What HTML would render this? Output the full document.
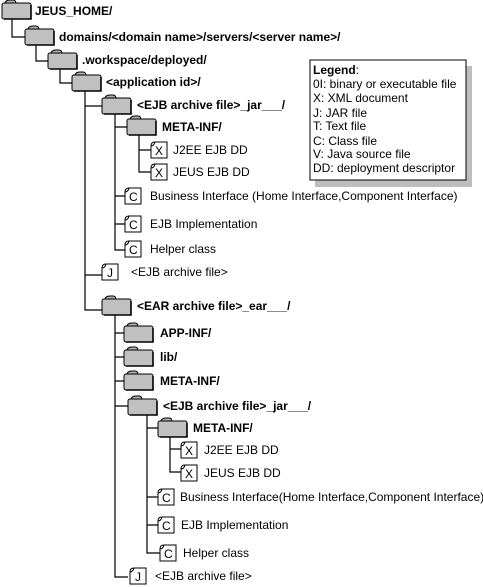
<!DOCTYPE html>
<html><head><meta charset="utf-8"><style>
html,body{margin:0;padding:0;background:#fff;}
svg{display:block;}
text{font-family:"Liberation Sans",Arial,sans-serif;font-size:12px;fill:#000;}
.b{font-weight:bold;}
</style></head><body>
<svg width="483" height="587" viewBox="0 0 483 587" xmlns="http://www.w3.org/2000/svg">
<defs>
<g id="fd">
<path d="M3 1 Q3 -3 8 -3 L11 -3 Q14 -3 14 1 Z" fill="#b0b0b0" stroke="#000" stroke-width="1"/>
<rect x="0" y="0" width="29" height="16" rx="2" fill="#c0c0c0" stroke="#000" stroke-width="1"/>
<path d="M29 2 L29 16 L2 16" fill="none" stroke="#000" stroke-width="1.6"/>
</g>
<path id="fl" d="M4 0 L16 0 L16 16 L0 16 L0 4 Q0 0 4 0 Z M0 4 Q3 4 4 0" fill="#fff" stroke="#000" stroke-width="1"/>
</defs>
<g stroke="#000" stroke-width="1.2" fill="none">
<path d="M12 18 V37 H25"/>
<path d="M36 45 V61 H48"/>
<path d="M60 69 V83 H72"/>
<path d="M85 91 V310 H102 M85 106 H102 M85 275 H102"/>
<path d="M115 114 V250 H125 M115 196 H125 M115 224 H125 M115 127 H127"/>
<path d="M139 134 V172 H151 M139 150 H151"/>
<path d="M115 315 V577 H128 M115 333 H124 M115 357 H124 M115 381 H124 M115 406 H128"/>
<path d="M147 415 V553 H160 M147 428 H158 M147 497 H158 M147 525 H158"/>
<path d="M170 437 V472 H181 M170 449 H181"/>
</g>
<use href="#fd" x="2" y="3"/>
<use href="#fd" x="25" y="29"/>
<use href="#fd" x="48" y="53"/>
<use href="#fd" x="72" y="75"/>
<use href="#fd" x="102" y="98"/>
<use href="#fd" x="127" y="119"/>
<use href="#fd" x="102" y="299"/>
<use href="#fd" x="124" y="326"/>
<use href="#fd" x="124" y="350"/>
<use href="#fd" x="124" y="374"/>
<use href="#fd" x="128" y="399"/>
<use href="#fd" x="158" y="421"/>
<text class="b" x="35" y="15">JEUS_HOME/</text>
<text class="b" x="59" y="41">domains/&lt;domain name&gt;/servers/&lt;server name&gt;/</text>
<text class="b" x="82" y="64">.workspace/deployed/</text>
<text class="b" x="106" y="86">&lt;application id&gt;/</text>
<text class="b" x="137" y="109">&lt;EJB archive file&gt;_jar___/</text>
<text class="b" x="162" y="131">META-INF/</text>
<text class="b" x="137" y="310">&lt;EAR archive file&gt;_ear___/</text>
<text class="b" x="160" y="337">APP-INF/</text>
<text class="b" x="160" y="361">lib/</text>
<text class="b" x="160" y="385">META-INF/</text>
<text class="b" x="163" y="410">&lt;EJB archive file&gt;_jar___/</text>
<text class="b" x="193" y="432">META-INF/</text>
<use href="#fl" x="151" y="142"/><text x="155" y="155">X</text><text x="173" y="154">J2EE EJB DD</text>
<use href="#fl" x="151" y="164"/><text x="155" y="177">X</text><text x="173" y="176">JEUS EJB DD</text>
<use href="#fl" x="125" y="188"/><text x="129" y="201">C</text><text x="150" y="200">Business Interface (Home Interface,Component Interface)</text>
<use href="#fl" x="125" y="216"/><text x="129" y="229">C</text><text x="150" y="228">EJB Implementation</text>
<use href="#fl" x="125" y="241"/><text x="129" y="254">C</text><text x="150" y="253">Helper class</text>
<use href="#fl" x="102" y="264"/><text x="107" y="277">J</text><text x="131" y="276">&lt;EJB archive file&gt;</text>
<use href="#fl" x="181" y="442"/><text x="185" y="455">X</text><text x="204" y="454">J2EE EJB DD</text>
<use href="#fl" x="181" y="465"/><text x="185" y="478">X</text><text x="204" y="477">JEUS EJB DD</text>
<use href="#fl" x="158" y="489"/><text x="162" y="502">C</text><text x="180" y="501">Business Interface(Home Interface,Component Interface)</text>
<use href="#fl" x="158" y="517"/><text x="162" y="530">C</text><text x="181" y="529">EJB Implementation</text>
<use href="#fl" x="160" y="545"/><text x="164" y="558">C</text><text x="183" y="557">Helper class</text>
<use href="#fl" x="130" y="568"/><text x="135" y="581">J</text><text x="155" y="580">&lt;EJB archive file&gt;</text>
<rect x="315" y="66" width="157" height="121" fill="#bdbdbd"/>
<rect x="310" y="60" width="156" height="120" fill="#fff" stroke="#000" stroke-width="1"/>
<text x="313" y="74"><tspan class="b">Legend</tspan>:</text>
<text x="313" y="88">0I: binary or executable file</text>
<text x="313" y="102">X: XML document</text>
<text x="313" y="117">J: JAR file</text>
<text x="313" y="130">T: Text file</text>
<text x="313" y="145">C: Class file</text>
<text x="313" y="158">V: Java source file</text>
<text x="313" y="172">DD: deployment descriptor</text>
</svg>
</body></html>
